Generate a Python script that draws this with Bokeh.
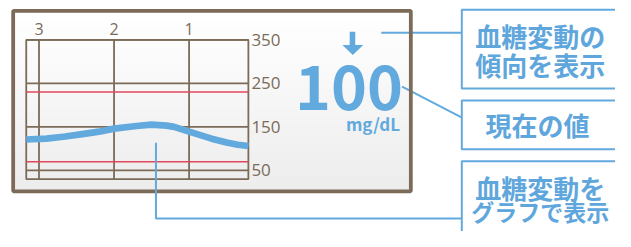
from bokeh.plotting import figure
from bokeh.models import Range1d
from bokeh.core.properties import value
from bokeh.embed import file_html
from bokeh.resources import INLINE

# ---------------- data ----------------
hours_ago = [3.17, 2.9, 2.65, 2.4, 2.2, 2.0, 1.7, 1.5, 1.3, 1.2, 1.0, 0.85, 0.7, 0.5, 0.35, 0.21]
glucose = [121, 123, 128, 134, 139, 146, 152, 155, 153, 150, 139, 131, 123, 114, 109, 106]
x_ticks = [3, 2, 1]
x_tick_labels = ["3", "2", "1"]
y_ticks = [350, 250, 150, 50]
y_tick_labels = ["350", "250", "150", "50"]
limit_lines = [230, 70]
x_window = [3.17, 0.21]
y_window = [30, 350]
current_value = "100"
unit_label = "mg/dL"
callout_1 = ["血糖変動の", "傾向を表示"]
callout_2 = ["現在の値"]
callout_3 = ["血糖変動を", "グラフで表示"]

# ---------------- styles ----------------
BROWN = "#7b6b58"
RED = "#e2475e"
BLUE = "#62a9de"
TXT_BLUE = "#5ea6dc"
W, H = 615, 231          # figure size (fits the window with its 8px margin)
RW, RH = 631, 247        # layout units (reference picture units)

p = figure(width=W, height=H, x_range=Range1d(0, RW), y_range=Range1d(RH, 0),
           output_backend="svg", toolbar_location=None, min_border=0,
           x_axis_location=None, y_axis_location=None)
p.outline_line_color = None
p.grid.visible = False
p.background_fill_color = "white"
p.border_fill_color = "white"

# chart scales placed inside the device screen (layout units)
PX_HR = 77.0      # units per hour
X3 = 39.5         # x of the "3" hour line
PX_MG = 0.4657    # units per mg/dL
Y350 = 42.0       # y of 350
p.extra_x_ranges = {"hrs": Range1d(3 + X3 / PX_HR, 3 - (RW - X3) / PX_HR)}
p.extra_y_ranges = {"mg": Range1d(350 - (RH - Y350) / PX_MG, 350 + Y350 / PX_MG)}
R = dict(x_range_name="hrs", y_range_name="mg")

# device screen background (vertical gradient)
n = 24
g_top, g_bot = 13.0, 202.0
tops, bots, cols = [], [], []
for i in range(n):
    t = g_top + (g_bot - g_top) * i / n
    b = g_top + (g_bot - g_top) * (i + 1) / n + 0.6
    g = int(round(255 - 18 * i / (n - 1)))
    tops.append(t); bots.append(b); cols.append("#%02x%02x%02x" % (g, g, g))
p.quad(left=15, right=419, top=tops, bottom=bots, fill_color=cols, line_color=None)

# connector lines behind the frame
p.line([390.7, 474], [34.5, 34.5], line_color=BLUE, line_width=2)
p.line([412, 474], [92, 125.5], line_color=BLUE, line_width=2)

# device frame
p.quad(left=13, right=421, top=11, bottom=204, fill_color=None, line_color=BROWN, line_width=3.8)

# chart grid
p.segment(x0=x_ticks, y0=[y_window[0]] * 3, x1=x_ticks, y1=[y_window[1]] * 3,
          line_color=BROWN, line_width=1.8, **R)
p.segment(x0=[x_window[0]] * 4, y0=y_ticks, x1=[x_window[1]] * 4, y1=y_ticks,
          line_color=BROWN, line_width=1.8, **R)
p.quad(left=x_window[0], right=x_window[1], bottom=y_window[0], top=y_window[1],
       fill_color=None, line_color=BROWN, line_width=1.8, **R)
p.segment(x0=[x_window[0]] * 2, y0=limit_lines, x1=[x_window[1]] * 2, y1=limit_lines,
          line_color=RED, line_width=1.6, **R)

# glucose curve
p.line(hours_ago, glucose, line_color=BLUE, line_width=6.7, line_join="round", **R)

# tick labels
p.text(x=[x_window[1]] * 4, y=y_ticks, text=y_tick_labels, x_offset=3,
       text_align="left", text_baseline="middle", text_font=value("Open Sans"),
       text_font_size="17px", text_color=BROWN, **R)
p.text(x=x_ticks, y=[y_window[1]] * 3, text=x_tick_labels, y_offset=-11,
       text_align="center", text_baseline="middle", text_font=value("Open Sans"),
       text_font_size="16px", text_color=BROWN, **R)

# connector to graph
p.line([159.5, 159.5, 474], [152, 233, 233], line_color=BLUE, line_width=2)

# callout boxes
p.quad(left=[473.3] * 3, right=[660] * 3, top=[10, 107, 172], bottom=[94, 159, 280],
       fill_color="white", line_color=BLUE, line_width=2)
cj = dict(text_font=value("Noto Sans CJK JP"), text_font_style="bold",
          text_color=TXT_BLUE, text_baseline="middle")
p.text(x=[487, 487], y=[37.5, 68.5], text=callout_1, text_align="left",
       text_font_size="26px", **cj)
p.text(x=[551], y=[133], text=callout_2, text_align="center",
       text_font_size="26px", **cj)
p.text(x=[487], y=[200], text=callout_3[:1], text_align="left",
       text_font_size="26px", **cj)
p.text(x=[483], y=[225.5], text=callout_3[1:], text_align="left",
       text_font_size="23px", **cj)

# trend arrow
p.quad(left=358.3, right=364, top=33.3, bottom=48.5, fill_color=BLUE, line_color=None)
p.patch([350.8, 372.2, 361.5], [47.7, 47.7, 58.3], fill_color=BLUE, line_color=None)

# current value
p.text(x=[357.5], y=[93], text=[current_value], text_align="center",
       text_baseline="middle", text_font=value("Noto Sans CJK JP"), text_font_style="bold",
       text_font_size="61px", text_color=BLUE)
p.text(x=[410], y=[131], text=[unit_label], text_align="right",
       text_baseline="middle", text_font=value("Noto Sans CJK JP"), text_font_style="bold",
       text_font_size="17px", text_color=BLUE)

open("out.html", "w").write(file_html(p, INLINE))
